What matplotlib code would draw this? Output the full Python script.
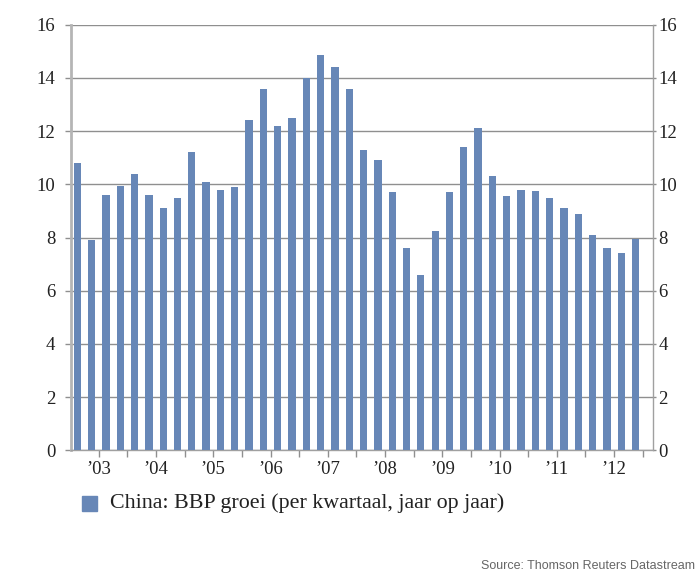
import matplotlib
matplotlib.use("Agg")
import matplotlib.pyplot as plt
import numpy as np

years = ["\u201903", "\u201904", "\u201905", "\u201906", "\u201907",
         "\u201908", "\u201909", "\u201910", "\u201911", "\u201912"]
growth = [10.8, 7.9, 9.6, 9.95,
          10.4, 9.6, 9.1, 9.5,
          11.2, 10.1, 9.8, 9.9,
          12.4, 13.6, 12.2, 12.5,
          14.0, 14.85, 14.4, 13.6,
          11.3, 10.9, 9.7, 7.6,
          6.6, 8.25, 9.7, 11.4,
          12.1, 10.3, 9.55, 9.8,
          9.75, 9.5, 9.1, 8.9,
          8.1, 7.6, 7.4, 7.95]
yticks = [0, 2, 4, 6, 8, 10, 12, 14, 16]
legend_label = "China: BBP groei (per kwartaal, jaar op jaar)"
source = "Source: Thomson Reuters Datastream"

bar_color = "#6787b7"
grid_color = "#8f8f8f"
text_color = "#222222"
serif = ["Liberation Serif", "DejaVu Serif"]
fs = 13.5

fig = plt.figure(figsize=(6.99, 5.73), dpi=100)
ax = fig.add_axes([0.102, 0.2141, 0.9338 - 0.102, 0.9569 - 0.2141])

x = np.arange(len(growth))
ax.bar(x, growth, width=0.51, color=bar_color, zorder=3)

ax.set_ylim(0, 16)
ax.set_xlim(-0.42, 40.2)
ax.set_yticks(yticks)
ax.set_yticklabels([str(v) for v in yticks], family=serif, fontsize=fs,
                   color=text_color)
ax.yaxis.grid(True, color=grid_color, lw=1.0, zorder=0)
ax.set_axisbelow(True)
ax.tick_params(axis="y", length=4, width=1, color=grid_color, pad=7.5)

# x ticks: minor ticks every two quarters, labels mid-year
ax.set_xticks(np.arange(1.5, 40, 2), minor=True)
ax.set_xticks(np.arange(1.5, 40, 4))
ax.set_xticklabels(years, family=serif, fontsize=fs, color=text_color)
ax.tick_params(axis="x", which="both", length=5, width=1, color=grid_color,
               direction="out", pad=3)

ax.spines["top"].set_visible(False)
ax.spines["right"].set_visible(False)
ax.spines["left"].set_color("#b5b5b5")
ax.spines["left"].set_linewidth(2.0)
ax.spines["bottom"].set_color("#a0a0a0")
ax.spines["bottom"].set_linewidth(1.0)

# right axis
ax2 = ax.twinx()
ax2.set_ylim(0, 16)
ax2.set_yticks(yticks)
ax2.set_yticklabels([str(v) for v in yticks], family=serif, fontsize=fs,
                    color=text_color)
ax2.tick_params(axis="y", length=2.5, width=1, color=grid_color, pad=1.5)
for side in ["top", "left", "bottom"]:
    ax2.spines[side].set_visible(False)
ax2.spines["right"].set_color("#a0a0a0")
ax2.spines["right"].set_linewidth(1.0)

# legend
fig.patches.append(plt.Rectangle((82 / 699, 1 - 511 / 573), 15 / 699, 15 / 573,
                                 transform=fig.transFigure, color=bar_color))
fig.text(110 / 699, 1 - 503 / 573, legend_label, family=serif, fontsize=15.8,
         va="center", ha="left", color=text_color)
fig.text(695 / 699, 1 - 566 / 573, source, family=["Liberation Sans", "DejaVu Sans"],
         fontsize=9, va="center", ha="right", color="#666666")

fig.savefig("out.png", dpi=100)
